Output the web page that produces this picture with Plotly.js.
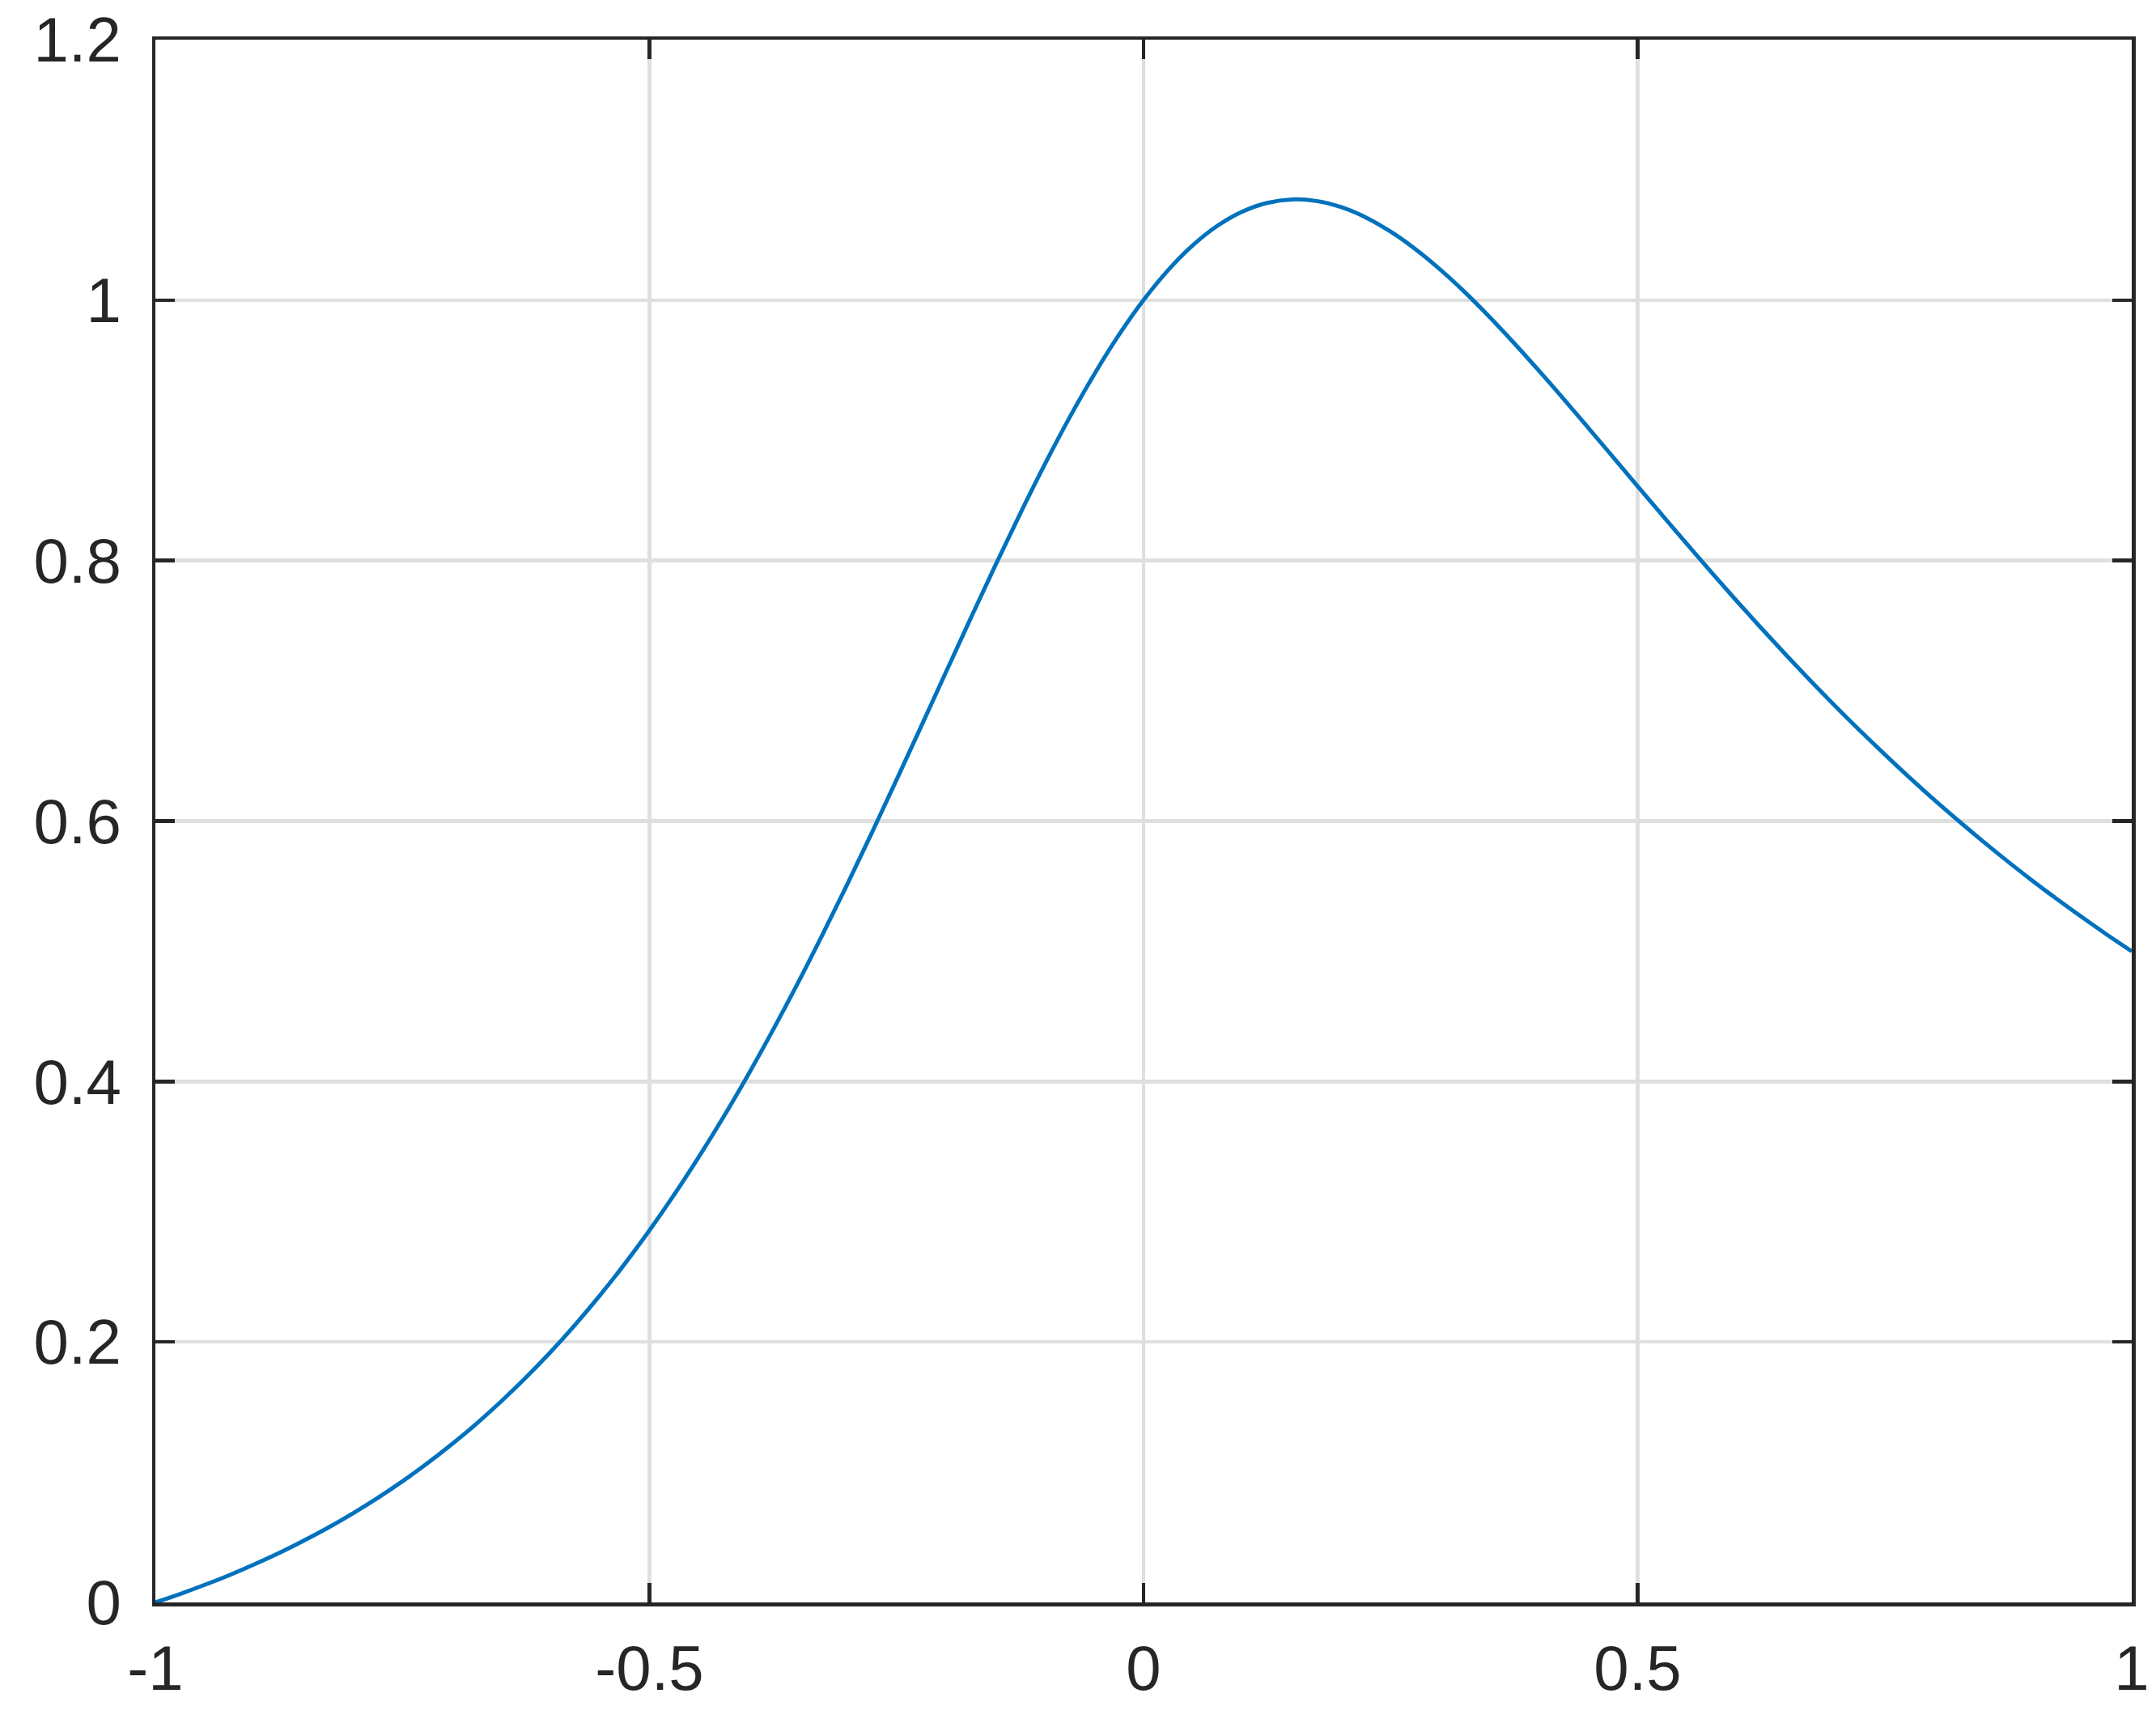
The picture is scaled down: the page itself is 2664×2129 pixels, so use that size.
<!DOCTYPE html>
<html>
<head>
<meta charset="utf-8">
<script src="https://cdn.plot.ly/plotly-3.0.1.min.js"></script>
<style>
  html, body { margin: 0; padding: 0; background: #fff; }
  #chart { width: 2664px; height: 2129px; }
</style>
</head>
<body>
<div id="chart"></div>
<script>
// values, every 0.025 along x
const xValues = [
    -1, -0.975, -0.95, -0.925, -0.9, -0.875, -0.85, -0.825, -0.8, -0.775,
    -0.75, -0.725, -0.7, -0.675, -0.65, -0.625, -0.6, -0.575, -0.55, -0.525,
    -0.5, -0.475, -0.45, -0.425, -0.4, -0.375, -0.35, -0.325, -0.3, -0.275,
    -0.25, -0.225, -0.2, -0.175, -0.15, -0.125, -0.1, -0.075, -0.05, -0.025,
    0, 0.025, 0.05, 0.075, 0.1, 0.125, 0.15, 0.175, 0.2, 0.225,
    0.25, 0.275, 0.3, 0.325, 0.35, 0.375, 0.4, 0.425, 0.45, 0.475,
    0.5, 0.525, 0.55, 0.575, 0.6, 0.625, 0.65, 0.675, 0.7, 0.725,
    0.75, 0.775, 0.8, 0.825, 0.85, 0.875, 0.9, 0.925, 0.95, 0.975, 1];
const yValues = [
    0, 0.0065, 0.0135, 0.0210, 0.0292, 0.0379, 0.0474, 0.0575, 0.0685, 0.0803,
    0.0930, 0.1067, 0.1215, 0.1373, 0.1544, 0.1727, 0.1923, 0.2134, 0.2359, 0.2600,
    0.2857, 0.3131, 0.3422, 0.3729, 0.4054, 0.4396, 0.4753, 0.5126, 0.5512, 0.5909,
    0.6316, 0.6728, 0.7143, 0.7556, 0.7963, 0.8358, 0.8738, 0.9097, 0.9429, 0.9732,
    1.0000, 1.0231, 1.0422, 1.0572, 1.0680, 1.0746, 1.0773, 1.0761, 1.0714, 1.0635,
    1.0526, 1.0392, 1.0236, 1.0062, 0.9872, 0.9670, 0.9459, 0.9242, 0.9020, 0.8796,
    0.8571, 0.8348, 0.8126, 0.7907, 0.7692, 0.7482, 0.7277, 0.7077, 0.6883, 0.6694,
    0.6512, 0.6335, 0.6164, 0.6000, 0.5841, 0.5687, 0.5539, 0.5397, 0.5260, 0.5127, 0.5];

const xTicks = [-1, -0.5, 0, 0.5, 1];
const xTickLabels = ['-1', '-0.5', '0', '0.5', '1'];
const yTicks = [0, 0.2, 0.4, 0.6, 0.8, 1, 1.2];
const yTickLabels = ['0', '0.2', '0.4', '0.6', '0.8', '1', '1.2'];

const axisColor = '#262626';
const tickFont = { family: 'Liberation Sans, Arial, sans-serif', size: 78, color: axisColor };

const trace = {
    x: xValues,
    y: yValues,
    type: 'scatter',
    mode: 'lines',
    line: { color: '#0072BD', width: 5, shape: 'spline', smoothing: 1, simplify: false },
    hoverinfo: 'skip'
};

const axisBase = {
    showline: true,
    linecolor: axisColor,
    linewidth: 4.5,
    mirror: 'ticks',
    ticks: 'inside',
    ticklen: 24,
    tickwidth: 4.5,
    tickcolor: axisColor,
    showgrid: true,
    gridcolor: '#dfdfdf',
    gridwidth: 4.5,
    zeroline: false,
    tickfont: tickFont,
    tickmode: 'array'
};

const layout = {
    width: 2664,
    height: 2129,
    margin: { l: 192, r: 30, t: 49, b: 149, pad: 0 },
    paper_bgcolor: '#ffffff',
    plot_bgcolor: '#ffffff',
    showlegend: false,
    xaxis: Object.assign({}, axisBase, {
        range: [-1, 1],
        tickvals: xTicks,
        ticktext: xTickLabels,
        ticklabelstandoff: 10
    }),
    yaxis: Object.assign({}, axisBase, {
        range: [0, 1.2],
        tickvals: yTicks,
        ticktext: yTickLabels,
        ticklabelstandoff: 22
    })
};

Plotly.newPlot('chart', [trace], layout, { staticPlot: true, displayModeBar: false });
</script>
</body>
</html>
